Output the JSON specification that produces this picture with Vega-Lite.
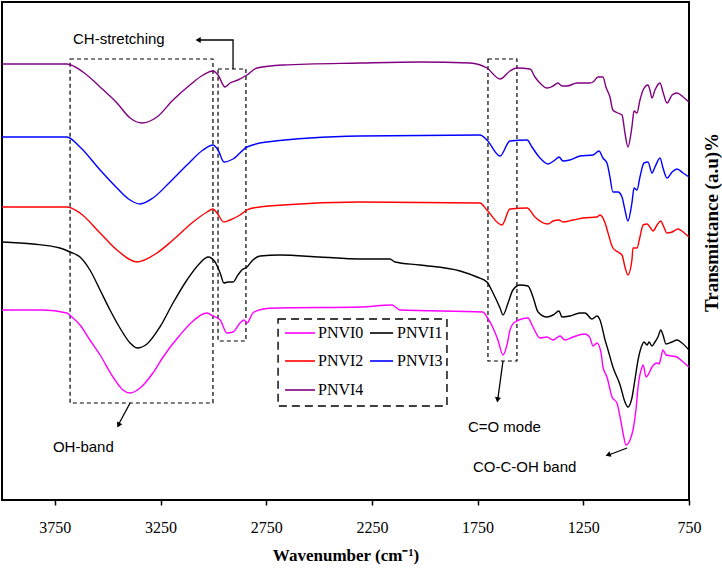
{
  "$schema": "https://vega.github.io/schema/vega-lite/v6.json",
  "width": 687,
  "height": 498,
  "autosize": {"type": "none"},
  "padding": {"left": 2, "top": 2, "right": 33, "bottom": 70},
  "background": "white",
  "config": {
    "view": {"stroke": "black", "strokeWidth": 2},
    "axis": {"grid": false}
  },
  "datasets": {
    "spectra": [
      {"s":"PNVI4","w":4000,"v":436},{"s":"PNVI4","w":3693,"v":436},{"s":"PNVI4","w":3617,"v":428},{"s":"PNVI4","w":3536,"v":413},{"s":"PNVI4","w":3456,"v":397},{"s":"PNVI4","w":3394,"v":382},{"s":"PNVI4","w":3338,"v":377},{"s":"PNVI4","w":3267,"v":383},{"s":"PNVI4","w":3191,"v":400},{"s":"PNVI4","w":3111,"v":415},{"s":"PNVI4","w":3049,"v":425},{"s":"PNVI4","w":3002,"v":429},{"s":"PNVI4","w":2978,"v":425},{"s":"PNVI4","w":2945,"v":413},{"s":"PNVI4","w":2921,"v":417},{"s":"PNVI4","w":2884,"v":420},{"s":"PNVI4","w":2841,"v":425},{"s":"PNVI4","w":2794,"v":432},{"s":"PNVI4","w":2671,"v":435},{"s":"PNVI4","w":2306,"v":437},{"s":"PNVI4","w":2023,"v":438},{"s":"PNVI4","w":1786,"v":437},{"s":"PNVI4","w":1706,"v":432},{"s":"PNVI4","w":1644,"v":421},{"s":"PNVI4","w":1597,"v":429},{"s":"PNVI4","w":1564,"v":432},{"s":"PNVI4","w":1502,"v":431},{"s":"PNVI4","w":1479,"v":423},{"s":"PNVI4","w":1455,"v":417},{"s":"PNVI4","w":1422,"v":412},{"s":"PNVI4","w":1393,"v":414},{"s":"PNVI4","w":1370,"v":417},{"s":"PNVI4","w":1351,"v":414},{"s":"PNVI4","w":1327,"v":414},{"s":"PNVI4","w":1280,"v":417},{"s":"PNVI4","w":1218,"v":417},{"s":"PNVI4","w":1204,"v":418},{"s":"PNVI4","w":1180,"v":423},{"s":"PNVI4","w":1157,"v":423},{"s":"PNVI4","w":1143,"v":413},{"s":"PNVI4","w":1124,"v":403},{"s":"PNVI4","w":1110,"v":390},{"s":"PNVI4","w":1086,"v":387},{"s":"PNVI4","w":1067,"v":385},{"s":"PNVI4","w":1053,"v":367},{"s":"PNVI4","w":1039,"v":353},{"s":"PNVI4","w":1020,"v":373},{"s":"PNVI4","w":1010,"v":389},{"s":"PNVI4","w":996,"v":387},{"s":"PNVI4","w":982,"v":400},{"s":"PNVI4","w":967,"v":410},{"s":"PNVI4","w":944,"v":415},{"s":"PNVI4","w":935,"v":410},{"s":"PNVI4","w":925,"v":402},{"s":"PNVI4","w":911,"v":410},{"s":"PNVI4","w":887,"v":417},{"s":"PNVI4","w":873,"v":408},{"s":"PNVI4","w":854,"v":397},{"s":"PNVI4","w":830,"v":405},{"s":"PNVI4","w":807,"v":407},{"s":"PNVI4","w":778,"v":403},{"s":"PNVI4","w":750,"v":398},

      {"s":"PNVI3","w":4000,"v":363},{"s":"PNVI3","w":3693,"v":363},{"s":"PNVI3","w":3631,"v":353},{"s":"PNVI3","w":3536,"v":330},{"s":"PNVI3","w":3456,"v":312},{"s":"PNVI3","w":3394,"v":300},{"s":"PNVI3","w":3347,"v":296},{"s":"PNVI3","w":3286,"v":302},{"s":"PNVI3","w":3205,"v":318},{"s":"PNVI3","w":3125,"v":335},{"s":"PNVI3","w":3049,"v":350},{"s":"PNVI3","w":3002,"v":355},{"s":"PNVI3","w":2978,"v":350},{"s":"PNVI3","w":2950,"v":338},{"s":"PNVI3","w":2907,"v":341},{"s":"PNVI3","w":2841,"v":353},{"s":"PNVI3","w":2746,"v":358},{"s":"PNVI3","w":2306,"v":364},{"s":"PNVI3","w":1739,"v":365},{"s":"PNVI3","w":1706,"v":360},{"s":"PNVI3","w":1644,"v":344},{"s":"PNVI3","w":1597,"v":359},{"s":"PNVI3","w":1516,"v":360},{"s":"PNVI3","w":1493,"v":353},{"s":"PNVI3","w":1455,"v":342},{"s":"PNVI3","w":1417,"v":336},{"s":"PNVI3","w":1384,"v":340},{"s":"PNVI3","w":1365,"v":343},{"s":"PNVI3","w":1346,"v":339},{"s":"PNVI3","w":1314,"v":340},{"s":"PNVI3","w":1266,"v":344},{"s":"PNVI3","w":1204,"v":345},{"s":"PNVI3","w":1176,"v":349},{"s":"PNVI3","w":1157,"v":342},{"s":"PNVI3","w":1138,"v":337},{"s":"PNVI3","w":1124,"v":323},{"s":"PNVI3","w":1110,"v":308},{"s":"PNVI3","w":1086,"v":308},{"s":"PNVI3","w":1067,"v":303},{"s":"PNVI3","w":1053,"v":290},{"s":"PNVI3","w":1039,"v":279},{"s":"PNVI3","w":1020,"v":297},{"s":"PNVI3","w":1010,"v":312},{"s":"PNVI3","w":996,"v":310},{"s":"PNVI3","w":982,"v":323},{"s":"PNVI3","w":963,"v":337},{"s":"PNVI3","w":944,"v":338},{"s":"PNVI3","w":925,"v":327},{"s":"PNVI3","w":911,"v":333},{"s":"PNVI3","w":887,"v":342},{"s":"PNVI3","w":873,"v":332},{"s":"PNVI3","w":854,"v":322},{"s":"PNVI3","w":830,"v":328},{"s":"PNVI3","w":807,"v":331},{"s":"PNVI3","w":778,"v":327},{"s":"PNVI3","w":750,"v":323},

      {"s":"PNVI2","w":4000,"v":293},{"s":"PNVI2","w":3693,"v":293},{"s":"PNVI2","w":3631,"v":287},{"s":"PNVI2","w":3536,"v":267},{"s":"PNVI2","w":3456,"v":250},{"s":"PNVI2","w":3361,"v":238},{"s":"PNVI2","w":3267,"v":247},{"s":"PNVI2","w":3191,"v":260},{"s":"PNVI2","w":3096,"v":278},{"s":"PNVI2","w":3030,"v":288},{"s":"PNVI2","w":3002,"v":291},{"s":"PNVI2","w":2983,"v":287},{"s":"PNVI2","w":2950,"v":278},{"s":"PNVI2","w":2921,"v":280},{"s":"PNVI2","w":2874,"v":285},{"s":"PNVI2","w":2841,"v":290},{"s":"PNVI2","w":2813,"v":292},{"s":"PNVI2","w":2671,"v":295},{"s":"PNVI2","w":2306,"v":298},{"s":"PNVI2","w":1739,"v":297},{"s":"PNVI2","w":1706,"v":290},{"s":"PNVI2","w":1635,"v":275},{"s":"PNVI2","w":1597,"v":291},{"s":"PNVI2","w":1516,"v":292},{"s":"PNVI2","w":1479,"v":283},{"s":"PNVI2","w":1417,"v":276},{"s":"PNVI2","w":1393,"v":279},{"s":"PNVI2","w":1365,"v":280},{"s":"PNVI2","w":1346,"v":278},{"s":"PNVI2","w":1299,"v":280},{"s":"PNVI2","w":1251,"v":282},{"s":"PNVI2","w":1185,"v":283},{"s":"PNVI2","w":1171,"v":285},{"s":"PNVI2","w":1147,"v":277},{"s":"PNVI2","w":1133,"v":267},{"s":"PNVI2","w":1110,"v":252},{"s":"PNVI2","w":1086,"v":248},{"s":"PNVI2","w":1067,"v":245},{"s":"PNVI2","w":1053,"v":233},{"s":"PNVI2","w":1039,"v":225},{"s":"PNVI2","w":1020,"v":240},{"s":"PNVI2","w":1015,"v":252},{"s":"PNVI2","w":996,"v":252},{"s":"PNVI2","w":982,"v":263},{"s":"PNVI2","w":967,"v":275},{"s":"PNVI2","w":948,"v":276},{"s":"PNVI2","w":935,"v":273},{"s":"PNVI2","w":920,"v":269},{"s":"PNVI2","w":901,"v":275},{"s":"PNVI2","w":883,"v":279},{"s":"PNVI2","w":873,"v":275},{"s":"PNVI2","w":854,"v":267},{"s":"PNVI2","w":830,"v":268},{"s":"PNVI2","w":802,"v":271},{"s":"PNVI2","w":778,"v":268},{"s":"PNVI2","w":750,"v":263},

      {"s":"PNVI1","w":4000,"v":258},{"s":"PNVI1","w":3853,"v":256},{"s":"PNVI1","w":3726,"v":252},{"s":"PNVI1","w":3678,"v":248},{"s":"PNVI1","w":3631,"v":243},{"s":"PNVI1","w":3584,"v":230},{"s":"PNVI1","w":3536,"v":210},{"s":"PNVI1","w":3489,"v":190},{"s":"PNVI1","w":3442,"v":172},{"s":"PNVI1","w":3394,"v":157},{"s":"PNVI1","w":3361,"v":152},{"s":"PNVI1","w":3314,"v":156},{"s":"PNVI1","w":3253,"v":173},{"s":"PNVI1","w":3191,"v":197},{"s":"PNVI1","w":3125,"v":220},{"s":"PNVI1","w":3063,"v":237},{"s":"PNVI1","w":3025,"v":243},{"s":"PNVI1","w":2992,"v":238},{"s":"PNVI1","w":2968,"v":227},{"s":"PNVI1","w":2950,"v":217},{"s":"PNVI1","w":2931,"v":218},{"s":"PNVI1","w":2907,"v":218},{"s":"PNVI1","w":2884,"v":225},{"s":"PNVI1","w":2865,"v":230},{"s":"PNVI1","w":2841,"v":233},{"s":"PNVI1","w":2813,"v":240},{"s":"PNVI1","w":2779,"v":244},{"s":"PNVI1","w":2685,"v":245},{"s":"PNVI1","w":2496,"v":243},{"s":"PNVI1","w":2306,"v":241},{"s":"PNVI1","w":2165,"v":241},{"s":"PNVI1","w":2141,"v":238},{"s":"PNVI1","w":2023,"v":235},{"s":"PNVI1","w":1833,"v":229},{"s":"PNVI1","w":1753,"v":223},{"s":"PNVI1","w":1706,"v":218},{"s":"PNVI1","w":1677,"v":207},{"s":"PNVI1","w":1644,"v":192},{"s":"PNVI1","w":1630,"v":185},{"s":"PNVI1","w":1606,"v":197},{"s":"PNVI1","w":1583,"v":210},{"s":"PNVI1","w":1550,"v":215},{"s":"PNVI1","w":1512,"v":214},{"s":"PNVI1","w":1488,"v":203},{"s":"PNVI1","w":1464,"v":188},{"s":"PNVI1","w":1422,"v":183},{"s":"PNVI1","w":1393,"v":185},{"s":"PNVI1","w":1365,"v":189},{"s":"PNVI1","w":1351,"v":183},{"s":"PNVI1","w":1314,"v":184},{"s":"PNVI1","w":1266,"v":187},{"s":"PNVI1","w":1242,"v":187},{"s":"PNVI1","w":1209,"v":181},{"s":"PNVI1","w":1185,"v":184},{"s":"PNVI1","w":1171,"v":180},{"s":"PNVI1","w":1147,"v":160},{"s":"PNVI1","w":1133,"v":150},{"s":"PNVI1","w":1110,"v":133},{"s":"PNVI1","w":1076,"v":115},{"s":"PNVI1","w":1053,"v":98},{"s":"PNVI1","w":1039,"v":93},{"s":"PNVI1","w":1020,"v":102},{"s":"PNVI1","w":1006,"v":120},{"s":"PNVI1","w":991,"v":140},{"s":"PNVI1","w":972,"v":155},{"s":"PNVI1","w":963,"v":158},{"s":"PNVI1","w":948,"v":155},{"s":"PNVI1","w":939,"v":158},{"s":"PNVI1","w":925,"v":154},{"s":"PNVI1","w":911,"v":158},{"s":"PNVI1","w":897,"v":163},{"s":"PNVI1","w":883,"v":170},{"s":"PNVI1","w":873,"v":165},{"s":"PNVI1","w":859,"v":156},{"s":"PNVI1","w":830,"v":158},{"s":"PNVI1","w":807,"v":160},{"s":"PNVI1","w":783,"v":157},{"s":"PNVI1","w":750,"v":150},

      {"s":"PNVI0","w":4000,"v":190},{"s":"PNVI0","w":3806,"v":190},{"s":"PNVI0","w":3693,"v":187},{"s":"PNVI0","w":3669,"v":183},{"s":"PNVI0","w":3631,"v":175},{"s":"PNVI0","w":3584,"v":160},{"s":"PNVI0","w":3536,"v":145},{"s":"PNVI0","w":3475,"v":123},{"s":"PNVI0","w":3428,"v":110},{"s":"PNVI0","w":3394,"v":107},{"s":"PNVI0","w":3347,"v":112},{"s":"PNVI0","w":3286,"v":127},{"s":"PNVI0","w":3238,"v":143},{"s":"PNVI0","w":3158,"v":165},{"s":"PNVI0","w":3096,"v":179},{"s":"PNVI0","w":3049,"v":186},{"s":"PNVI0","w":3030,"v":187},{"s":"PNVI0","w":3002,"v":184},{"s":"PNVI0","w":2968,"v":180},{"s":"PNVI0","w":2936,"v":167},{"s":"PNVI0","w":2907,"v":168},{"s":"PNVI0","w":2874,"v":177},{"s":"PNVI0","w":2855,"v":180},{"s":"PNVI0","w":2841,"v":177},{"s":"PNVI0","w":2813,"v":187},{"s":"PNVI0","w":2765,"v":191},{"s":"PNVI0","w":2699,"v":192},{"s":"PNVI0","w":2306,"v":193},{"s":"PNVI0","w":2155,"v":195},{"s":"PNVI0","w":2117,"v":190},{"s":"PNVI0","w":1725,"v":188},{"s":"PNVI0","w":1706,"v":183},{"s":"PNVI0","w":1677,"v":172},{"s":"PNVI0","w":1654,"v":160},{"s":"PNVI0","w":1630,"v":145},{"s":"PNVI0","w":1606,"v":160},{"s":"PNVI0","w":1597,"v":170},{"s":"PNVI0","w":1573,"v":178},{"s":"PNVI0","w":1512,"v":182},{"s":"PNVI0","w":1488,"v":173},{"s":"PNVI0","w":1455,"v":162},{"s":"PNVI0","w":1422,"v":163},{"s":"PNVI0","w":1393,"v":160},{"s":"PNVI0","w":1360,"v":164},{"s":"PNVI0","w":1337,"v":160},{"s":"PNVI0","w":1299,"v":163},{"s":"PNVI0","w":1242,"v":166},{"s":"PNVI0","w":1218,"v":162},{"s":"PNVI0","w":1204,"v":154},{"s":"PNVI0","w":1185,"v":157},{"s":"PNVI0","w":1166,"v":147},{"s":"PNVI0","w":1157,"v":133},{"s":"PNVI0","w":1138,"v":123},{"s":"PNVI0","w":1114,"v":103},{"s":"PNVI0","w":1091,"v":97},{"s":"PNVI0","w":1076,"v":83},{"s":"PNVI0","w":1062,"v":67},{"s":"PNVI0","w":1048,"v":55},{"s":"PNVI0","w":1029,"v":60},{"s":"PNVI0","w":1015,"v":70},{"s":"PNVI0","w":1001,"v":90},{"s":"PNVI0","w":991,"v":113},{"s":"PNVI0","w":972,"v":133},{"s":"PNVI0","w":967,"v":135},{"s":"PNVI0","w":953,"v":123},{"s":"PNVI0","w":944,"v":125},{"s":"PNVI0","w":925,"v":133},{"s":"PNVI0","w":901,"v":137},{"s":"PNVI0","w":892,"v":136},{"s":"PNVI0","w":883,"v":142},{"s":"PNVI0","w":873,"v":150},{"s":"PNVI0","w":859,"v":145},{"s":"PNVI0","w":830,"v":144},{"s":"PNVI0","w":807,"v":143},{"s":"PNVI0","w":778,"v":138},{"s":"PNVI0","w":750,"v":133}
    ],
    "boxes": [
      {"id":"OH","w":3678,"w2":3002,"v":441,"v2":97},
      {"id":"CH","w":2978,"w2":2846,"v":431,"v2":159},
      {"id":"CO","w":1701,"w2":1564,"v":441,"v2":139}
    ],
    "legendbox": [
      {"w":2694,"w2":1895,"v":181,"v2":94}
    ],
    "arrows": [
      {"id":"CH","i":0,"w":2907,"v":431},{"id":"CH","i":1,"w":2907,"v":460},{"id":"CH","i":2,"w":3063,"v":460},
      {"id":"OH","i":0,"w":3394,"v":97},{"id":"OH","i":1,"w":3450,"v":75},
      {"id":"CO","i":0,"w":1630,"v":139},{"id":"CO","i":1,"w":1655,"v":100},
      {"id":"COC","i":0,"w":1043,"v":52},{"id":"COC","i":1,"w":1130,"v":45}
    ],
    "heads": [
      {"id":"CH","w":3068,"v":460,"a":270},
      {"id":"OH","w":3447,"v":75.5,"a":207},
      {"id":"CO","w":1655,"v":101,"a":188},
      {"id":"COC","w":1129,"v":45.4,"a":250}
    ],
    "notes": [
      {"t":"CH-stretching","w":3664,"v":461},
      {"t":"OH-band","w":3759,"v":53},
      {"t":"C=O mode","w":1796,"v":73},
      {"t":"CO-C-OH band","w":1772,"v":33}
    ],
    "legend": [
      {"s":"PNVI0","w":2661,"w2":2519,"tw":2505,"v":167},
      {"s":"PNVI1","w":2259,"w2":2150,"tw":2131,"v":167},
      {"s":"PNVI2","w":2661,"w2":2519,"tw":2505,"v":139},
      {"s":"PNVI3","w":2259,"w2":2150,"tw":2131,"v":139},
      {"s":"PNVI4","w":2661,"w2":2519,"tw":2505,"v":110}
    ]
  },
  "encoding": {
    "x": {
      "field": "w", "type": "quantitative",
      "scale": {"domain": [750, 4000], "reverse": true, "nice": false, "zero": false},
      "axis": {
        "values": [3750, 3250, 2750, 2250, 1750, 1250, 750],
        "format": "d", "domain": false, "grid": false,
        "tickSize": 5, "tickColor": "black", "tickWidth": 1.5,
        "labelFont": "Liberation Serif", "labelFontSize": 16, "labelColor": "black",
        "labelPadding": 14, "labelFlush": false, "labelOverlap": false,
        "title": "Wavenumber (cm⁻¹)",
        "titleFont": "Liberation Serif", "titleFontSize": 17, "titleFontWeight": "bold",
        "titleColor": "black", "titlePadding": 12
      }
    },
    "y": {
      "field": "v", "type": "quantitative",
      "scale": {"domain": [0, 498], "nice": false, "zero": false},
      "axis": {
        "orient": "right", "labels": false, "ticks": false, "domain": false, "grid": false,
        "title": "Transmittance (a.u)%",
        "titleFont": "Liberation Serif", "titleFontSize": 19, "titleFontWeight": "bold",
        "titleColor": "black", "titleAngle": 270, "titleAlign": "center", "titleBaseline": "middle",
        "titleX": 22, "titleY": 220
      }
    }
  },
  "layer": [
    {
      "data": {"name": "boxes"},
      "mark": {"type": "rect", "filled": false, "stroke": "black", "strokeWidth": 1.2, "strokeDash": [4, 3]},
      "encoding": {"x2": {"field": "w2"}, "y2": {"field": "v2"}}
    },
    {
      "data": {"name": "legendbox"},
      "mark": {"type": "rect", "filled": false, "stroke": "black", "strokeWidth": 1.4, "strokeDash": [8, 5]},
      "encoding": {"x2": {"field": "w2"}, "y2": {"field": "v2"}}
    },
    {
      "data": {"name": "spectra"},
      "mark": {"type": "line", "strokeWidth": 1.4, "interpolate": "monotone"},
      "encoding": {
        "color": {
          "field": "s", "type": "nominal",
          "scale": {"domain": ["PNVI0", "PNVI1", "PNVI2", "PNVI3", "PNVI4"], "range": ["#ff00ff", "#000000", "#ff0000", "#0000ff", "#800080"]},
          "legend": null
        },
        "order": {"value": null}
      }
    },
    {
      "data": {"name": "arrows"},
      "mark": {"type": "line", "color": "black", "strokeWidth": 1.3},
      "encoding": {
        "detail": {"field": "id", "type": "nominal"},
        "order": {"field": "i", "type": "quantitative"}
      }
    },
    {
      "data": {"name": "heads"},
      "mark": {"type": "point", "shape": "triangle", "filled": true, "color": "black", "size": 36, "opacity": 1},
      "encoding": {
        "angle": {"field": "a", "type": "quantitative", "scale": null}
      }
    },
    {
      "data": {"name": "notes"},
      "mark": {"type": "text", "align": "left", "baseline": "middle", "font": "Liberation Sans", "fontSize": 15, "color": "black"},
      "encoding": {"text": {"field": "t", "type": "nominal"}}
    },
    {
      "data": {"name": "legend"},
      "mark": {"type": "rule", "strokeWidth": 1.6},
      "encoding": {
        "x2": {"field": "w2"},
        "color": {"field": "s", "type": "nominal", "legend": null}
      }
    },
    {
      "data": {"name": "legend"},
      "mark": {"type": "text", "align": "left", "baseline": "middle", "font": "Liberation Serif", "fontSize": 16, "color": "black"},
      "encoding": {
        "x": {"field": "tw", "type": "quantitative"},
        "text": {"field": "s", "type": "nominal"}
      }
    }
  ]
}
